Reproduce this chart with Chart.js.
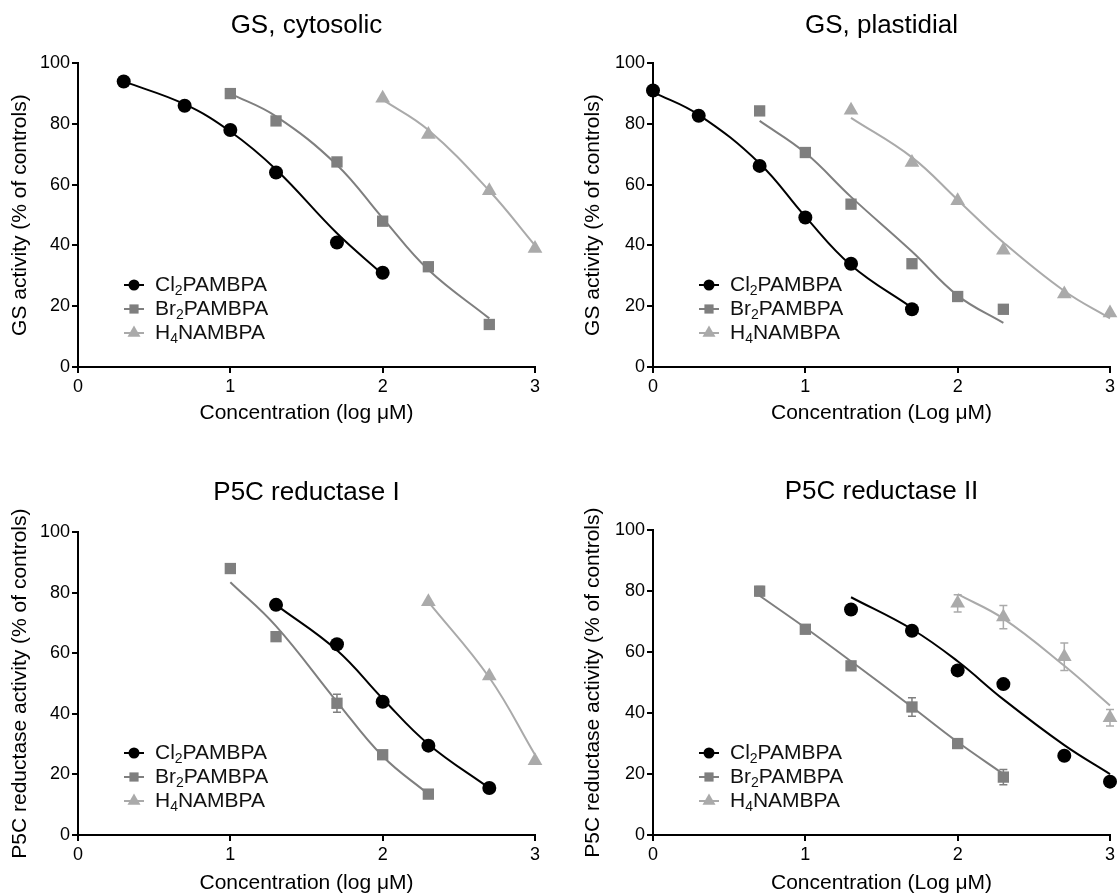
<!DOCTYPE html>
<html>
<head>
<meta charset="utf-8">
<title>Inhibition curves</title>
<script src="https://cdn.jsdelivr.net/npm/chart.js@4.4.1/dist/chart.umd.min.js"></script>
<style>
  body { margin: 0; background: #fff; }
  #wrap { position: relative; width: 1119px; height: 896px; }
  .panel { position: absolute; }
</style>
</head>
<body>
<div id="wrap">
  <div class="panel" style="left:0;top:0;width:560px;height:448px"><canvas id="gsCyt"></canvas></div>
  <div class="panel" style="left:560px;top:0;width:559px;height:448px"><canvas id="gsPla"></canvas></div>
  <div class="panel" style="left:0;top:448px;width:560px;height:448px"><canvas id="p5c1"></canvas></div>
  <div class="panel" style="left:560px;top:448px;width:559px;height:448px"><canvas id="p5c2"></canvas></div>
</div>
<script>
// ─── Shared ───────────────────────────────────────────────────────────────────
const FONT = "'Liberation Sans', Arial, Helvetica, sans-serif";
const COLORS = ["#000000", "#7f7f7f", "#aaaaaa"];
const STYLES = ["circle", "rect", "triangle"];
const RADII = [7, 8, 8.5];
const LEGEND_RADII = [5.5, 6.5, 7.5];
const LEGEND_NAMES = [["Cl", "2", "PAMBPA"], ["Br", "2", "PAMBPA"], ["H", "4", "NAMBPA"]];
const X_TICKS = [0, 1, 2, 3];
const Y_TICKS = [0, 20, 40, 60, 80, 100];

// ─── GS, cytosolic ────────────────────────────────────────────────────────────
const cytClX   = [0.3, 0.7, 1.0, 1.3, 1.7, 2.0];
const cytClY   = [94, 86, 78, 64, 41, 31];
const cytClFit = [94, 86.5, 77.5, 65, 44, 30.5];
const cytBrX   = [1.0, 1.3, 1.7, 2.0, 2.3, 2.7];
const cytBrY   = [90, 81, 67.5, 48, 33, 14];
const cytBrFit = [90, 82.5, 66.5, 49, 32, 16];
const cytHX    = [2.0, 2.3, 2.7, 3.0];
const cytHY    = [88.5, 76.5, 58, 39];
const cytHFit  = [88, 78, 58, 40];

// ─── GS, plastidial ───────────────────────────────────────────────────────────
const plaClX   = [0, 0.3, 0.7, 1.0, 1.3, 1.7];
const plaClY   = [91, 82.7, 66.2, 49.2, 34, 19];
const plaClFit = [90.5, 83, 67, 49.5, 33.5, 19.5];
const plaBrX   = [0.7, 1.0, 1.3, 1.7, 2.0, 2.3];
const plaBrY   = [84.3, 70.6, 53.6, 34, 23.2, 19];
const plaBrFit = [81, 70.5, 56, 38, 23.5, 14.5];
const plaHX    = [1.3, 1.7, 2.0, 2.3, 2.7, 3.0];
const plaHY    = [84.5, 67.3, 54.7, 38.4, 24, 17.8];
const plaHFit  = [82, 69, 55, 41, 25, 16];

// ─── P5C reductase I ──────────────────────────────────────────────────────────
const r1ClX   = [1.3, 1.7, 2.0, 2.3, 2.7];
const r1ClY   = [76, 63, 44, 29.5, 15.5];
const r1ClFit = [76, 61, 45, 30, 15.5];
const r1ClErr = [0, 1.5, 0, 0, 0];
const r1BrX   = [1.0, 1.3, 1.7, 2.0, 2.3];
const r1BrY   = [88, 65.5, 43.5, 26.5, 13.5];
const r1BrFit = [83.5, 69, 44, 26, 13.5];
const r1BrErr = [0, 0, 3, 0, 0];
const r1HX    = [2.3, 2.7, 3.0];
const r1HY    = [77, 52.5, 24.5];
const r1HFit  = [77, 52, 26.5];

// ─── P5C reductase II ─────────────────────────────────────────────────────────
const r2ClX   = [1.3, 1.7, 2.0, 2.3, 2.7, 3.0];
const r2ClY   = [74, 67, 54, 49.5, 26, 17.5];
const r2ClFit = [78, 67.5, 57, 44.5, 29.5, 20];
const r2BrX   = [0.7, 1.0, 1.3, 1.7, 2.0, 2.3];
const r2BrY   = [80, 67.5, 55.5, 42, 30, 19];
const r2BrFit = [78.5, 68, 57, 42, 30.5, 20];
const r2BrErr = [1.5, 0.8, 1, 3, 1, 2.5];
const r2HX    = [2.0, 2.3, 2.7, 3.0];
const r2HY    = [76, 71.5, 58.5, 38.5];
const r2HFit  = [79, 71, 55.5, 42.5];
const r2HErr  = [2.8, 3.8, 4.5, 2.7];

// ─── Plugins ──────────────────────────────────────────────────────────────────
const errorBarPlugin = {
  id: "errorBars",
  beforeDatasetsDraw(chart) {
    const { ctx, scales: { x, y } } = chart;
    chart.data.datasets.forEach(ds => {
      if (!ds.errors) return;
      ctx.save();
      ctx.strokeStyle = ds.backgroundColor;
      ctx.lineWidth = 1.5;
      ds.data.forEach((p, i) => {
        const e = ds.errors[i];
        if (!e) return;
        const px = x.getPixelForValue(p.x);
        const top = y.getPixelForValue(p.y + e);
        const bot = y.getPixelForValue(p.y - e);
        ctx.beginPath();
        ctx.moveTo(px, top); ctx.lineTo(px, bot);
        ctx.moveTo(px - 4, top); ctx.lineTo(px + 4, top);
        ctx.moveTo(px - 4, bot); ctx.lineTo(px + 4, bot);
        ctx.stroke();
      });
      ctx.restore();
    });
  }
};

const LEGEND_ROWS = [-82, -58, -34];
const innerLegend = {
  id: "innerLegend",
  afterDraw(chart) {
    const { ctx, chartArea } = chart;
    ctx.save();
    LEGEND_NAMES.forEach((parts, i) => {
      const y = chartArea.bottom + LEGEND_ROWS[i];
      const x = chartArea.left + 56;
      ctx.strokeStyle = COLORS[i];
      ctx.fillStyle = COLORS[i];
      ctx.lineWidth = 2;
      ctx.beginPath(); ctx.moveTo(x - 10, y); ctx.lineTo(x + 10, y); ctx.stroke();
      Chart.helpers.drawPoint(ctx, { pointStyle: STYLES[i], radius: LEGEND_RADII[i], rotation: 0, borderWidth: 0 }, x, y);

      ctx.fillStyle = "#111";
      ctx.textBaseline = "middle";
      let tx = chartArea.left + 77;
      ctx.font = `21px ${FONT}`;
      ctx.fillText(parts[0], tx, y); tx += ctx.measureText(parts[0]).width;
      ctx.font = `14px ${FONT}`;
      ctx.fillText(parts[1], tx, y + 6); tx += ctx.measureText(parts[1]).width;
      ctx.font = `21px ${FONT}`;
      ctx.fillText(parts[2], tx, y);
    });
    ctx.restore();
  }
};

// ─── Helpers ──────────────────────────────────────────────────────────────────
const pts = (xs, ys) => xs.map((x, i) => ({ x, y: ys[i] }));

function buildDatasets(series) {
  const sets = [];
  series.forEach(([xs, ys, fit, errs], i) => {
    sets.push({
      type: "scatter",
      data: pts(xs, ys),
      errors: errs || null,
      backgroundColor: COLORS[i],
      borderColor: COLORS[i],
      borderWidth: 0,
      pointStyle: STYLES[i],
      pointRadius: RADII[i],
      clip: false,
      order: 0,
    });
    sets.push({
      type: "line",
      data: pts(xs, fit),
      borderColor: COLORS[i],
      borderWidth: 2,
      pointRadius: 0,
      fill: false,
      tension: 0.4,
      clip: false,
      order: 1,
    });
  });
  return sets;
}

function makeChart(id, title, xTitle, yTitle, series, g) {
  return new Chart(document.getElementById(id), {
    type: "scatter",
    data: { datasets: buildDatasets(series) },
    options: {
      responsive: true,
      maintainAspectRatio: false,
      animation: false,
      events: [],
      layout: { padding: { left: 0, right: g.right, top: 0, bottom: 0 } },
      plugins: {
        legend: { display: false },
        tooltip: { enabled: false },
        title: {
          display: true,
          text: title,
          fullSize: false,
          color: "#000",
          font: { family: FONT, size: 26, weight: "normal" },
          padding: { top: g.titleTop, bottom: g.titleBottom },
        },
      },
      scales: {
        x: {
          type: "linear",
          min: 0, max: 3,
          afterBuildTicks: s => { s.ticks = X_TICKS.map(v => ({ value: v })); },
          afterFit: s => { s.height = g.xh; },
          grid: { drawOnChartArea: false, drawTicks: true, tickLength: 6, color: "#000", lineWidth: 2 },
          border: { display: true, color: "#000", width: 2 },
          ticks: { color: "#000", padding: 3, font: { family: FONT, size: 18 } },
          title: {
            display: true, text: xTitle, color: "#000",
            font: { family: FONT, size: 21 },
            padding: { top: 0, bottom: g.xTitlePad },
          },
        },
        y: {
          type: "linear",
          min: 0, max: 100,
          afterBuildTicks: s => { s.ticks = Y_TICKS.map(v => ({ value: v })); },
          afterFit: s => { s.width = g.yw; },
          grid: { drawOnChartArea: false, drawTicks: true, tickLength: 6, color: "#000", lineWidth: 2 },
          border: { display: true, color: "#000", width: 2 },
          ticks: { color: "#000", padding: 2, font: { family: FONT, size: 18 } },
          title: {
            display: true, text: yTitle, color: "#000",
            font: { family: FONT, size: 21 },
            padding: { top: g.yTitlePad, bottom: 0 },
          },
        },
      },
    },
    plugins: [errorBarPlugin, innerLegend],
  });
}

// ─── Build ────────────────────────────────────────────────────────────────────
const GS_Y = "GS activity (% of controls)";
const P5C_Y = "P5C reductase activity (% of controls)";

makeChart("gsCyt", "GS, cytosolic", "Concentration (log μM)", GS_Y,
  [[cytClX, cytClY, cytClFit], [cytBrX, cytBrY, cytBrFit], [cytHX, cytHY, cytHFit]],
  { yw: 78, right: 25, titleTop: 10, titleBottom: 22, xh: 81, xTitlePad: 22, yTitlePad: 8 });

makeChart("gsPla", "GS, plastidial", "Concentration (Log μM)", GS_Y,
  [[plaClX, plaClY, plaClFit], [plaBrX, plaBrY, plaBrFit], [plaHX, plaHY, plaHFit]],
  { yw: 93, right: 9, titleTop: 10, titleBottom: 22, xh: 81, xTitlePad: 22, yTitlePad: 21 });

makeChart("p5c1", "P5C reductase I", "Concentration (log μM)", P5C_Y,
  [[r1ClX, r1ClY, r1ClFit, r1ClErr], [r1BrX, r1BrY, r1BrFit, r1BrErr], [r1HX, r1HY, r1HFit]],
  { yw: 78, right: 25, titleTop: 29, titleBottom: 24, xh: 61, xTitlePad: 0, yTitlePad: 8 });

makeChart("p5c2", "P5C reductase II", "Concentration (Log μM)", P5C_Y,
  [[r2ClX, r2ClY, r2ClFit], [r2BrX, r2BrY, r2BrFit, r2BrErr], [r2HX, r2HY, r2HFit, r2HErr]],
  { yw: 93, right: 9, titleTop: 28, titleBottom: 23, xh: 61, xTitlePad: 0, yTitlePad: 21 });
</script>
</body>
</html>
